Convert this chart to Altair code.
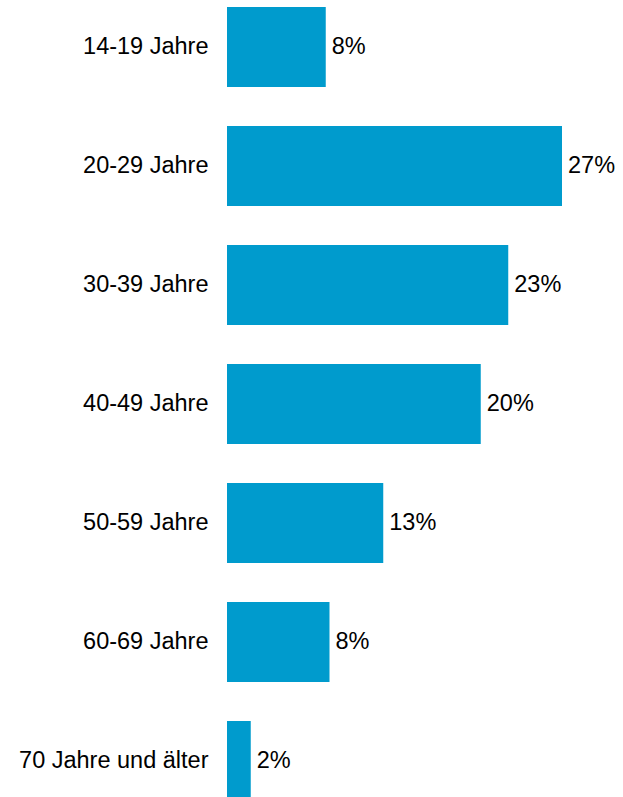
import altair as alt
import pandas as pd

categories = ["14-19 Jahre", "20-29 Jahre", "30-39 Jahre", "40-49 Jahre",
              "50-59 Jahre", "60-69 Jahre", "70 Jahre und älter"]
values = [7.9, 26.8, 22.5, 20.3, 12.5, 8.2, 1.9]
labels = ["8%", "27%", "23%", "20%", "13%", "8%", "2%"]

df = pd.DataFrame({"cat": categories, "val": values, "lab": labels})

y = alt.Y("cat:N", sort=categories, title=None,
          scale=alt.Scale(range=[0, 794], paddingInner=0.328, paddingOuter=0),
          axis=alt.Axis(domain=False, ticks=False, grid=False, labelPadding=19,
                        labelFontSize=23.5, labelFont="Liberation Sans",
                        labelColor="#000000", labelLimit=300))
x = alt.X("val:Q", title=None, axis=None,
          scale=alt.Scale(domain=[0, 31.68], nice=False, zero=True))

bars = alt.Chart(df).mark_bar(color="#009BCD").encode(x=x, y=y)
text = alt.Chart(df).mark_text(align="left", baseline="middle", dx=6,
                               fontSize=23.5, font="Liberation Sans",
                               color="#000000").encode(x=x, y=y, text="lab:N")

chart = (bars + text).properties(
    width=396, height=790,
    autosize=alt.AutoSizeParams(type="none"),
    padding={"left": 227, "top": 7, "right": 0, "bottom": 0},
).configure(background="#ffffff", view=alt.ViewConfig(stroke=None))

chart.save("out.html", embed_options={"renderer": "svg", "actions": False})
